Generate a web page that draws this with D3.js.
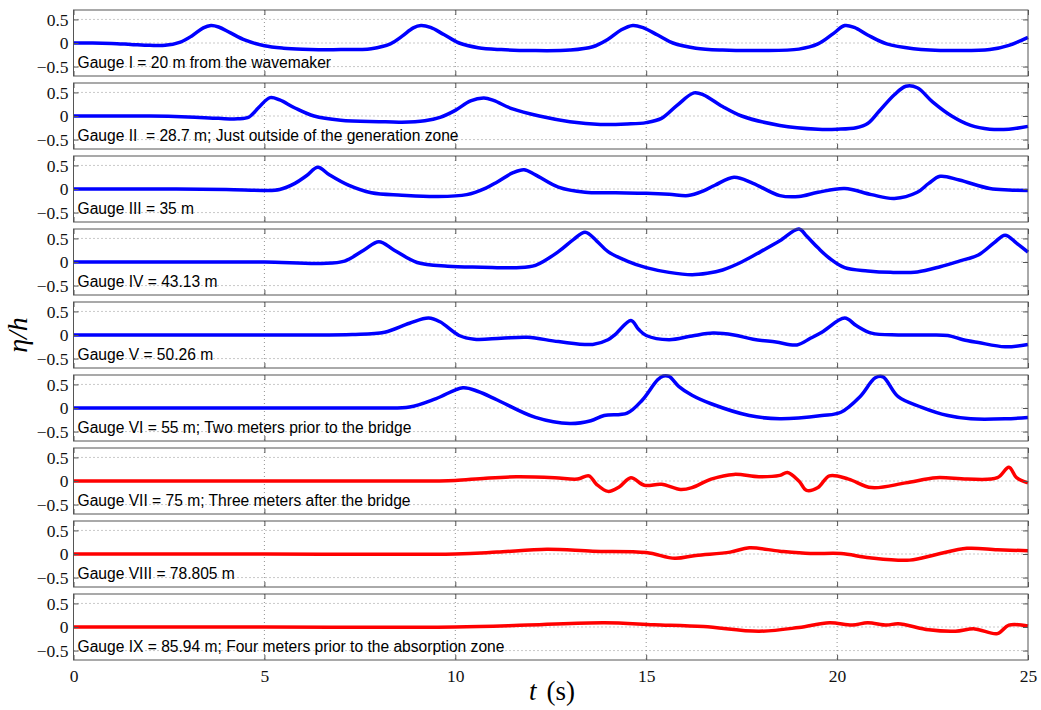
<!DOCTYPE html>
<html>
<head>
<meta charset="utf-8">
<script src="https://cdn.jsdelivr.net/npm/d3@7"></script>
<style>
  body { margin: 0; background: #fff; }
  svg { display: block; }
</style>
</head>
<body>
<svg width="1041" height="710"></svg>
<script>
// gauge labels (one per panel)
const gaugeLabels = [
  "Gauge I = 20 m from the wavemaker",
  "Gauge II  = 28.7 m; Just outside of the generation zone",
  "Gauge III = 35 m",
  "Gauge IV = 43.13 m",
  "Gauge V = 50.26 m",
  "Gauge VI = 55 m; Two meters prior to the bridge",
  "Gauge VII = 75 m; Three meters after the bridge",
  "Gauge VIII = 78.805 m",
  "Gauge IX = 85.94 m; Four meters prior to the absorption zone"
];
const gaugeColors = ["blue","blue","blue","blue","blue","blue","red","red","red"];

// eta/h readings, [t, value]
const gaugeI = [[0,0],[0.5,0],[1,-0.01],[1.5,-0.03],[2,-0.05],[2.4,-0.05],[2.8,0.02],[3.1,0.15],[3.4,0.32],[3.6,0.37],[3.8,0.34],[4.1,0.22],[4.5,0.06],[5,-0.06],[5.5,-0.11],[6,-0.13],[7,-0.14],[7.8,-0.12],[8.3,-0.02],[8.6,0.14],[8.9,0.32],[9.1,0.37],[9.35,0.33],[9.7,0.18],[10.1,0],[10.6,-0.1],[11.2,-0.14],[12,-0.16],[13,-0.15],[13.6,-0.08],[14,0.08],[14.35,0.28],[14.65,0.37],[14.9,0.33],[15.3,0.17],[15.7,0],[16.3,-0.11],[17,-0.15],[18,-0.16],[19,-0.13],[19.5,-0.02],[19.9,0.2],[20.2,0.37],[20.45,0.33],[20.8,0.17],[21.3,-0.02],[22,-0.12],[23,-0.16],[24,-0.14],[24.5,-0.05],[25,0.12]];
const gaugeII = [[0,0],[1,0],[2,0],[3,-0.02],[3.8,-0.05],[4.3,-0.06],[4.6,-0.02],[4.85,0.18],[5.15,0.39],[5.4,0.34],[5.8,0.17],[6.3,0],[7,-0.09],[8,-0.12],[8.6,-0.13],[9.2,-0.1],[9.6,-0.03],[10,0.12],[10.4,0.32],[10.75,0.38],[11,0.33],[11.5,0.15],[12.2,0],[13,-0.12],[13.8,-0.18],[14.5,-0.17],[15,-0.14],[15.4,-0.05],[15.8,0.22],[16.25,0.49],[16.5,0.45],[17,0.2],[17.5,0],[18.5,-0.2],[19.5,-0.28],[20,-0.28],[20.5,-0.25],[20.8,-0.16],[21.1,0.1],[21.5,0.45],[21.8,0.63],[22.1,0.6],[22.5,0.3],[23,0],[23.5,-0.2],[24,-0.28],[24.5,-0.28],[25,-0.22]];
const gaugeIII = [[0,0],[2,0],[4,-0.01],[5,-0.03],[5.4,-0.01],[5.8,0.12],[6.1,0.28],[6.4,0.46],[6.7,0.3],[7.2,0.08],[7.8,-0.08],[8.6,-0.13],[9.5,-0.16],[10.3,-0.12],[10.8,0.02],[11.1,0.15],[11.5,0.34],[11.8,0.41],[12.1,0.3],[12.7,0.04],[13.4,-0.07],[14.2,-0.08],[15,-0.09],[15.6,-0.11],[16.1,-0.14],[16.5,-0.04],[16.8,0.08],[17.3,0.25],[17.8,0.12],[18.5,-0.14],[19,-0.16],[19.5,-0.07],[20.2,0.01],[20.9,-0.12],[21.5,-0.2],[22.1,-0.07],[22.4,0.12],[22.7,0.27],[23.2,0.19],[24,0.01],[24.5,-0.02],[25,-0.03]];
const gaugeIV = [[0,0],[3,0],[5,0],[6.5,-0.03],[7.1,0.02],[7.6,0.25],[8,0.43],[8.4,0.25],[9,-0.01],[9.8,-0.09],[10.7,-0.11],[11.6,-0.12],[12.1,-0.07],[12.7,0.22],[13.1,0.48],[13.4,0.63],[13.7,0.45],[14,0.22],[14.5,0.02],[15,-0.12],[15.6,-0.22],[16.2,-0.27],[16.6,-0.24],[17,-0.17],[17.5,0],[18,0.22],[18.5,0.45],[19,0.7],[19.2,0.55],[19.5,0.3],[19.8,0.08],[20.2,-0.12],[20.8,-0.19],[21.4,-0.22],[22.1,-0.21],[22.7,-0.1],[23.2,0.02],[23.7,0.15],[24.1,0.4],[24.4,0.57],[24.7,0.4],[25,0.21]];
const gaugeV = [[0,0],[3,0],[6,0],[7.3,0.01],[8.15,0.06],[8.8,0.25],[9.3,0.36],[9.6,0.28],[10.1,-0.01],[10.5,-0.09],[11.2,-0.07],[11.9,-0.05],[12.7,-0.14],[13.6,-0.2],[14,-0.1],[14.2,0.02],[14.6,0.31],[14.8,0.12],[15,-0.01],[15.6,-0.1],[16.2,-0.02],[16.75,0.04],[17.3,0],[17.8,-0.09],[18.4,-0.15],[18.95,-0.21],[19.3,-0.07],[19.6,0.06],[20.2,0.36],[20.5,0.2],[20.9,0.04],[21.6,0],[22.3,0],[22.9,-0.01],[23.3,-0.1],[23.7,-0.16],[24.4,-0.25],[25,-0.2]];
const gaugeVI = [[0,0],[4,0],[7,0],[8,0],[8.8,0.02],[9.5,0.2],[10.2,0.43],[10.6,0.35],[11.1,0.17],[12.1,-0.2],[13,-0.33],[13.55,-0.27],[13.9,-0.16],[14.5,-0.11],[14.9,0.17],[15.3,0.6],[15.45,0.68],[15.6,0.67],[15.85,0.46],[16.2,0.27],[16.7,0.09],[17.7,-0.16],[18.5,-0.23],[19.6,-0.16],[20.1,-0.09],[20.6,0.24],[21,0.64],[21.2,0.66],[21.6,0.24],[22.2,0.02],[22.9,-0.16],[23.5,-0.23],[24.4,-0.23],[25,-0.2]];
const gaugeVII = [[0,0],[5,0],[9.5,0],[10,0.01],[10.8,0.06],[11.6,0.09],[12.6,0.07],[13.2,0.04],[13.5,0.11],[13.7,-0.07],[14,-0.22],[14.3,-0.12],[14.6,0.07],[14.95,-0.09],[15.4,-0.07],[15.9,-0.18],[16.2,-0.14],[16.7,0.04],[17.3,0.14],[17.95,0.09],[18.5,0.12],[18.7,0.18],[19,0],[19.2,-0.2],[19.5,-0.14],[19.8,0.11],[20.3,0.04],[20.9,-0.14],[21.8,-0.04],[22.6,0.07],[23.4,0.04],[24.2,0.07],[24.5,0.29],[24.7,0.07],[25,-0.04]];
const gaugeVIII = [[0,0],[5,0],[10,0],[11.1,0.04],[12.4,0.1],[13.6,0.06],[15,0.03],[15.75,-0.09],[16.3,-0.03],[17.2,0.04],[17.7,0.13],[18.5,0.06],[19.3,0.01],[20.1,0.01],[20.85,-0.08],[21.9,-0.13],[22.6,-0.01],[23.4,0.12],[24.2,0.09],[25,0.07]];
const gaugeIX = [[0,0],[5,0],[10,0],[11.9,0.04],[13.9,0.09],[15.2,0.05],[16.5,0.01],[17.95,-0.09],[19,-0.01],[19.8,0.09],[20.4,0.04],[20.8,0.09],[21.3,0.04],[21.6,0.07],[22.4,-0.06],[23.1,-0.09],[23.6,-0.04],[24.2,-0.14],[24.5,0.04],[25,0.02]];
const gauges = [gaugeI, gaugeII, gaugeIII, gaugeIV, gaugeV, gaugeVI, gaugeVII, gaugeVIII, gaugeIX];

const xTicks = [0, 5, 10, 15, 20, 25];
const yTicks = [-0.5, 0, 0.5];

const svg = d3.select("svg");
const left = 73.5, right = 1028;
const panelTop = 10, panelH = 66, panelStep = 73;

const x = d3.scaleLinear().domain([0, 25]).range([left, right]);
const fmt = d => d < 0 ? "\u2212" + Math.abs(d) : String(d);

gauges.forEach((data, i) => {
  const top = panelTop + i * panelStep;
  const y = d3.scaleLinear().domain([-0.7, 0.7]).range([top + panelH, top]);
  const g = svg.append("g");

  // grid
  g.selectAll("line.hg").data(yTicks).enter().append("line")
    .attr("x1", left).attr("x2", right)
    .attr("y1", d => y(d)).attr("y2", d => y(d))
    .attr("stroke", "#777").attr("stroke-width", 0.8).attr("stroke-dasharray", "1,3");
  g.selectAll("line.vg").data(xTicks.slice(1, -1)).enter().append("line")
    .attr("x1", d => x(d)).attr("x2", d => x(d))
    .attr("y1", top).attr("y2", top + panelH)
    .attr("stroke", "#777").attr("stroke-width", 0.8).attr("stroke-dasharray", "1,3");

  // label
  g.append("text")
    .attr("x", left + 4).attr("y", top + 58)
    .attr("font-family", "Liberation Sans, Arial, sans-serif")
    .attr("font-size", 15.6)
    .style("white-space", "pre")
    .text(gaugeLabels[i]);

  // curve
  g.append("path").datum(data)
    .attr("fill", "none")
    .attr("stroke", gaugeColors[i] === "blue" ? "#0000ff" : "#ff0000")
    .attr("stroke-width", 3.5)
    .attr("stroke-linejoin", "round")
    .attr("d", d3.line().x(d => x(d[0])).y(d => y(d[1])).curve(d3.curveCatmullRom.alpha(0.5)));

  // y axis, left and right
  const yAxisL = g.append("g").attr("transform", `translate(${left},0)`)
    .call(d3.axisLeft(y).tickValues(yTicks).tickSize(-5).tickPadding(5).tickFormat(fmt));
  const yAxisR = g.append("g").attr("transform", `translate(${right},0)`)
    .call(d3.axisRight(y).tickValues(yTicks).tickSize(-5).tickFormat(""));
  // x axis, top and bottom
  const xAxisB = g.append("g").attr("transform", `translate(0,${top + panelH})`)
    .call(d3.axisBottom(x).tickValues(xTicks).tickSize(-5).tickPadding(10)
      .tickFormat(i === gauges.length - 1 ? d3.format("d") : ""));
  const xAxisT = g.append("g").attr("transform", `translate(0,${top})`)
    .call(d3.axisTop(x).tickValues(xTicks).tickSize(-5).tickFormat(""));

  [yAxisL, yAxisR, xAxisB, xAxisT].forEach(a => {
    a.select(".domain").remove();
    a.selectAll("line").attr("stroke", "#555");
    a.selectAll("text").attr("font-family", "Liberation Serif, Times New Roman, serif")
      .attr("font-size", 17.5).attr("fill", "#111");
  });

  g.append("rect")
    .attr("x", left).attr("y", top)
    .attr("width", right - left).attr("height", panelH)
    .attr("fill", "none").attr("stroke", "#555").attr("stroke-width", 1);
});

// axis titles
svg.append("text")
  .attr("transform", "translate(27,335) rotate(-90)")
  .attr("text-anchor", "middle")
  .attr("font-family", "Liberation Serif, Times New Roman, serif")
  .attr("font-size", 28)
  .attr("font-style", "italic")
  .text("\u03b7/h");

const xl = svg.append("text")
  .attr("x", 552).attr("y", 700)
  .attr("text-anchor", "middle")
  .attr("font-family", "Liberation Serif, Times New Roman, serif")
  .attr("font-size", 27);
xl.append("tspan").attr("font-style", "italic").text("t");
xl.append("tspan").attr("dx", 10).text("(s)");
</script>
</body>
</html>
